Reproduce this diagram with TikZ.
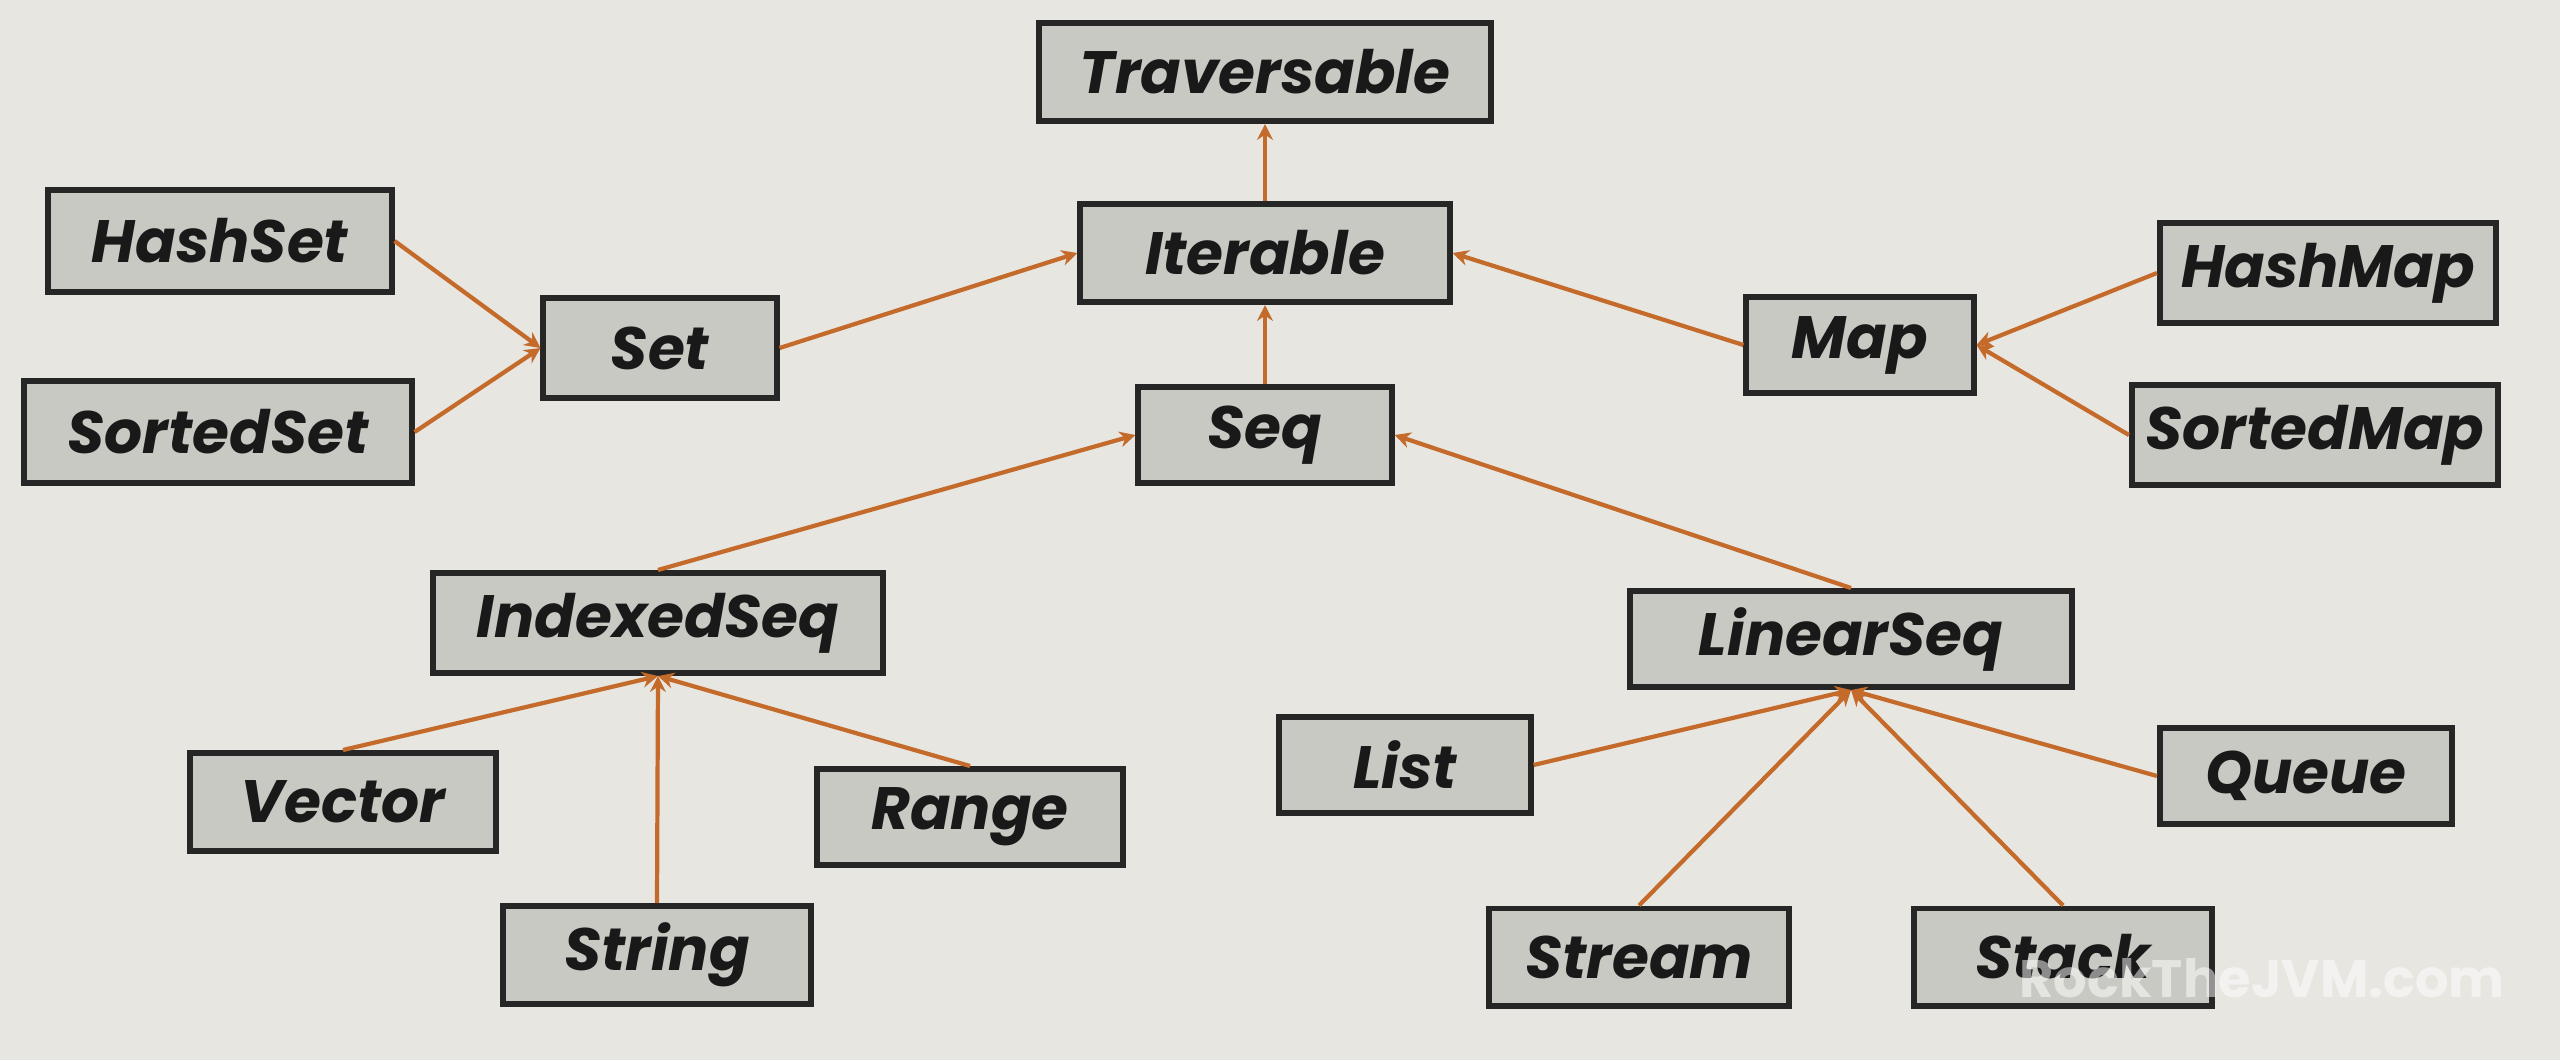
\documentclass[tikz,border=0pt]{standalone}
\usepackage{fontspec}
\newfontfamily\lblfont{Poppins}
\usetikzlibrary{arrows.meta}
\definecolor{bgc}{HTML}{E7E6E1}
\definecolor{boxc}{HTML}{C9C9C3}
\definecolor{linec}{HTML}{C46A2A}
\tikzset{
  cls/.style={draw=black!85, line width=1.7pt, fill=boxc, inner sep=0pt,
    font=\lblfont\bfseries\itshape\fontsize{17}{20}\selectfont, text=black!90},
  isa/.style={draw=linec, line width=1.2pt, -{Stealth[length=4.5pt,width=4.5pt]}}
}
\begin{document}
\begin{tikzpicture}[x=0.01cm,y=-0.01cm]
\useasboundingbox (0,0) rectangle (2560,1060);
\fill[bgc] (0,0) rectangle (2560,1060);

\node[cls, minimum width=4.51cm, minimum height=0.98cm] (trav) at (1265,72) {Traversable};
\node[cls, minimum width=3.69cm, minimum height=0.98cm] (iter) at (1265,253) {Iterable};
\node[cls, minimum width=3.43cm, minimum height=1.01cm] (hset) at (220,241) {HashSet};
\node[cls, minimum width=2.33cm, minimum height=0.99cm] (set) at (660,348) {Set};
\node[cls, minimum width=3.87cm, minimum height=1.01cm] (sset) at (218,432) {SortedSet};
\node[cls, minimum width=2.53cm, minimum height=0.96cm] (seq) at (1265,435) {Seq};
\node[cls, minimum width=2.27cm, minimum height=0.96cm] (map) at (1860,345) {Map};
\node[cls, minimum width=3.36cm, minimum height=0.99cm] (hmap) at (2328,273) {HashMap};
\node[cls, minimum width=3.66cm, minimum height=1.00cm] (smap) at (2315,435) {SortedMap};
\node[cls, minimum width=4.49cm, minimum height=1.00cm] (iseq) at (658,623) {IndexedSeq};
\node[cls, minimum width=4.41cm, minimum height=0.96cm] (lseq) at (1851,639) {LinearSeq};
\node[cls, minimum width=3.05cm, minimum height=0.98cm] (vec) at (343,802) {Vector};
\node[cls, minimum width=3.05cm, minimum height=0.96cm] (rng) at (970,817) {Range};
\node[cls, minimum width=3.07cm, minimum height=0.98cm] (str) at (657,955) {String};
\node[cls, minimum width=2.51cm, minimum height=0.95cm] (lst) at (1405,765) {List};
\node[cls, minimum width=2.92cm, minimum height=0.96cm] (que) at (2306,776) {Queue};
\node[cls, minimum width=3.00cm, minimum height=0.97cm] (strm) at (1639,957) {Stream};
\node[cls, minimum width=2.97cm, minimum height=0.97cm] (stk) at (2063,957) {Stack};

\draw[isa] (iter.north) -- (trav.south);
\draw[isa] (seq.north) -- (iter.south);
\draw[isa] (set.east) -- (iter.west);
\draw[isa] (map.west) -- (iter.east);
\draw[isa] (hset.east) -- (set.west);
\draw[isa] (sset.east) -- (set.west);
\draw[isa] (hmap.west) -- (map.east);
\draw[isa] (smap.west) -- (map.east);
\draw[isa] (iseq.north) -- (seq.west);
\draw[isa] (lseq.north) -- (seq.east);
\draw[isa] (vec.north) -- (iseq.south);
\draw[isa] (str.north) -- (iseq.south);
\draw[isa] (rng.north) -- (iseq.south);
\draw[isa] (lst.east) -- (lseq.south);
\draw[isa] (que.west) -- (lseq.south);
\draw[isa] (strm.north) -- (lseq.south);
\draw[isa] (stk.north) -- (lseq.south);

\node[font=\lblfont\bfseries\fontsize{15}{18}\selectfont, text=white, opacity=0.5] (wm) at (2262,978) {RockTheJVM.com};
\end{tikzpicture}
\end{document}
